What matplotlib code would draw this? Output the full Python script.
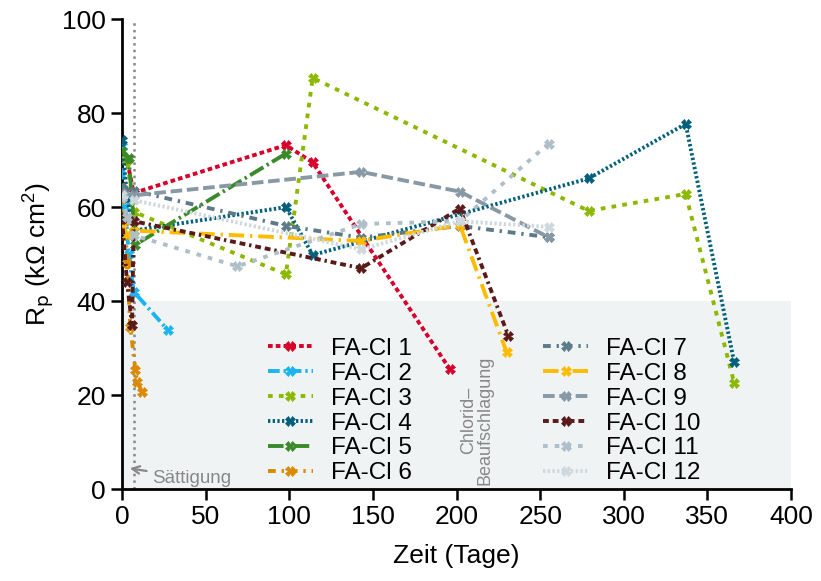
import matplotlib
matplotlib.use("Agg")
import matplotlib.pyplot as plt

plt.rcParams['font.family'] = ['Liberation Sans', 'DejaVu Sans']
plt.rcParams['mathtext.default'] = 'regular'

# measurement data (days, Rp in kOhm cm2)
labels = ['FA-Cl 1', 'FA-Cl 2', 'FA-Cl 3', 'FA-Cl 4', 'FA-Cl 5', 'FA-Cl 6',
          'FA-Cl 7', 'FA-Cl 8', 'FA-Cl 9', 'FA-Cl 10', 'FA-Cl 11', 'FA-Cl 12']

x1 = [0, 3, 7, 98, 114, 196]
y1 = [70.5, 70, 63, 73.2, 69.5, 25.5]
x2 = [0, 2, 4, 7, 27.5]
y2 = [73, 60, 50, 42, 33.8]
x3 = [0, 3, 7, 98, 114, 279, 337, 366]
y3 = [71, 70, 59, 45.7, 87.5, 59.2, 62.8, 22.6]
x4 = [0, 3, 7, 98, 114, 279, 337, 366]
y4 = [74.3, 62, 55, 60, 49.8, 66.1, 77.7, 27]
x5 = [0, 4, 8, 98]
y5 = [72, 70.5, 52, 71.4]
x6 = [0, 2, 3, 5, 8, 9, 12]
y6 = [64, 57, 48, 34.5, 25.3, 22.8, 20.7]
x7 = [0, 7, 98, 143, 202, 255]
y7 = [64, 63.5, 56, 53.5, 56, 53.6]
x8 = [0, 3, 7, 143, 202, 230]
y8 = [57, 54, 55, 52.8, 56.2, 29.1]
x9 = [0, 7, 143, 202, 255]
y9 = [63, 62.5, 67.5, 63.3, 53.6]
x10 = [0, 3, 6, 7, 143, 202, 231]
y10 = [57.5, 44, 35, 57, 47, 59.7, 32.6]
x11 = [0, 3, 7, 69, 143, 202, 255]
y11 = [62, 58, 54, 47.4, 56.4, 57, 73.5]
x12 = [0, 7, 143, 202, 255]
y12 = [62.5, 61.5, 51, 57, 55.8]

xs = [x1, x2, x3, x4, x5, x6, x7, x8, x9, x10, x11, x12]
ys = [y1, y2, y3, y4, y5, y6, y7, y8, y9, y10, y11, y12]

colors = ['#d7002a', '#1ab4ee', '#8cb800', '#005f7a', '#3a8a2a', '#d98a00',
          '#5c7a88', '#ffbb00', '#8899a6', '#5a1a1a', '#aebfc9', '#cfd8dd']
dashes = [(1.2, 0.8), (3, 1, 0.6, 1), (1.2, 1.6), (0.6, 0.6), (4, 1, 0.6, 1),
          (2, 1.5, 0.6, 1.5), (2, 1.5, 0.6, 1.5), (4, 1.5, 0.6, 1.5),
          (3, 1.2), (1.5, 1, 1.5, 1, 0.6, 1), (1.2, 1.8), (0.6, 0.6)]

fig = plt.figure(figsize=(8.21, 5.81), dpi=100)
ax = fig.add_axes([0.1486, 0.1583, 0.8149, 0.8087])

# chloride threshold area and saturation line
ax.axhspan(0, 40, color='#eff3f4', zorder=0, lw=0)
ax.axvline(7, color='#888888', ls=':', lw=1.8, zorder=1)

for x, y, c, d, lab in zip(xs, ys, colors, dashes, labels):
    ax.plot(x, y, color=c, lw=2.8, dashes=d, marker='X', markersize=7,
            markeredgewidth=0.5, label=lab, zorder=3)

ax.annotate('Sättigung', xy=(3, 4.5), xytext=(18, 2.3), color='#888888',
            fontsize=13.5, va='center',
            arrowprops=dict(arrowstyle='->', color='#888888', lw=1.6))
ax.text(212, 0.8, 'Chlorid–\nBeaufschlagung', rotation=90, color='#888888',
        fontsize=13, ha='center', va='bottom', linespacing=0.95)

ax.set_xlim(0, 400)
ax.set_ylim(0, 100)
ax.set_xticks(range(0, 401, 50))
ax.set_yticks(range(0, 101, 20))
ax.spines['top'].set_visible(False)
ax.spines['right'].set_visible(False)
ax.spines['left'].set_linewidth(2)
ax.spines['bottom'].set_linewidth(2)
ax.tick_params(direction='out', length=8, width=1.8, labelsize=19)
ax.set_xlabel('Zeit (Tage)', fontsize=19, labelpad=11)
ax.set_ylabel(r'R$_\mathrm{p}$ (kΩ cm$^2$)', fontsize=19)

ax.legend(ncol=2, frameon=False, fontsize=17.5, loc='upper left',
          bbox_to_anchor=(0.218, 0.322), borderaxespad=0, borderpad=0,
          columnspacing=5.4, handlelength=1.85, labelspacing=0.12,
          handletextpad=0.75)

fig.savefig('out.png', dpi=100)
